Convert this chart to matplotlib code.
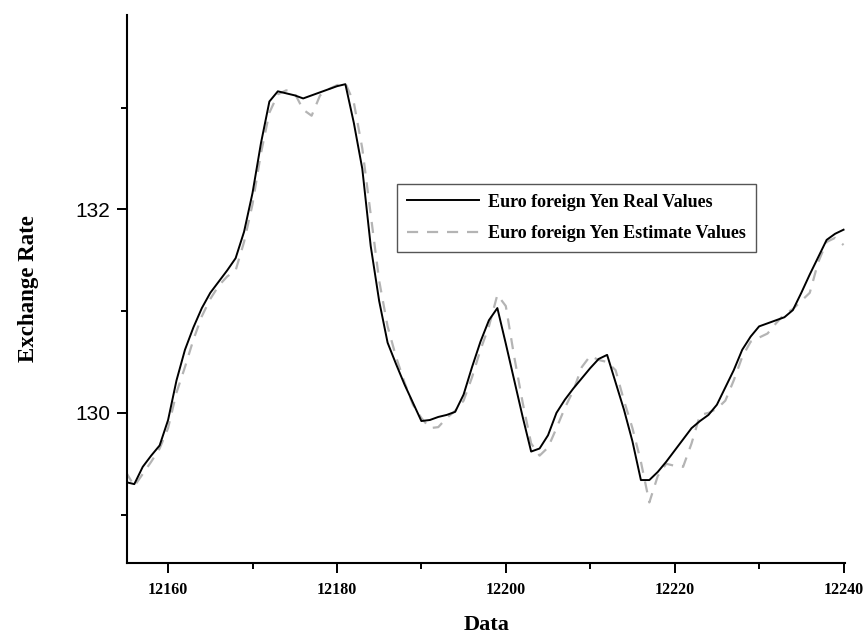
import numpy as np
import matplotlib
matplotlib.use("Agg")
import matplotlib.pyplot as plt
from matplotlib.ticker import MultipleLocator

# Exchange-rate observations (one per time step) and model estimates
days = list(range(12155, 12241))

real_values = [
    129.32, 129.30, 129.47, 129.58, 129.68, 129.93, 130.32, 130.62, 130.84, 131.03,
    131.18, 131.29, 131.40, 131.52, 131.78, 132.16, 132.65, 133.06, 133.16, 133.14,
    133.12, 133.09, 133.12, 133.15, 133.18, 133.21, 133.23, 132.85, 132.40, 131.64,
    131.10, 130.69, 130.48, 130.28, 130.10, 129.92, 129.93, 129.96, 129.98, 130.01,
    130.18, 130.45, 130.70, 130.91, 131.03, 130.68, 130.32, 129.96, 129.62, 129.65,
    129.78, 130.00, 130.13, 130.24, 130.34, 130.44, 130.53, 130.57, 130.30, 130.03,
    129.72, 129.34, 129.34, 129.42, 129.52, 129.63, 129.74, 129.85, 129.92, 129.98,
    130.08, 130.25, 130.42, 130.62, 130.75, 130.85, 130.88, 130.91, 130.94, 131.01,
    131.18, 131.36, 131.53, 131.70, 131.76, 131.80,
]

estimate_values = [
    129.42, 129.28, 129.40, 129.52, 129.65, 129.85, 130.20, 130.45, 130.72, 130.95,
    131.12, 131.25, 131.34, 131.40, 131.68, 132.05, 132.55, 132.95, 133.13, 133.17,
    133.14, 132.98, 132.92, 133.12, 133.18, 133.22, 133.24, 133.05, 132.60, 131.95,
    131.30, 130.85, 130.55, 130.30, 130.08, 129.95, 129.85, 129.86, 129.95, 130.02,
    130.12, 130.35, 130.62, 130.85, 131.16, 131.05, 130.55, 130.10, 129.70, 129.58,
    129.66, 129.85, 130.05, 130.22, 130.45, 130.56, 130.52, 130.50, 130.42, 130.12,
    129.85, 129.52, 129.12, 129.38, 129.50, 129.48, 129.47, 129.70, 129.98, 130.00,
    130.04, 130.12, 130.32, 130.55, 130.70, 130.74, 130.78, 130.88, 130.97, 131.02,
    131.10, 131.18, 131.48, 131.68, 131.72, 131.65,
]

serif = ["Liberation Serif", "DejaVu Serif"]
sans = ["Liberation Sans", "DejaVu Sans"]

fig = plt.figure(figsize=(8.66, 6.35), dpi=100)
ax = fig.add_axes([0.1467, 0.1134, 0.8293, 0.8630])

ax.plot(days, real_values, color="black", lw=1.4,
        label="Euro foreign Yen Real Values", zorder=3)
ax.plot(days, estimate_values, color="#b4b4b4", lw=1.6, dashes=(5, 4),
        label="Euro foreign Yen Estimate Values", zorder=2)

ax.set_xlim(12155.14, 12240.2)
ax.set_ylim(128.525, 133.91)

ax.xaxis.set_major_locator(MultipleLocator(20))
ax.xaxis.set_minor_locator(MultipleLocator(10))
ax.yaxis.set_major_locator(MultipleLocator(2))
ax.yaxis.set_minor_locator(MultipleLocator(1))

for side in ("top", "right"):
    ax.spines[side].set_visible(False)
for side in ("left", "bottom"):
    ax.spines[side].set_linewidth(1.5)

ax.tick_params(which="major", direction="out", length=7, width=1.4)
ax.tick_params(which="minor", direction="out", length=4, width=1.4)
ax.tick_params(axis="y", pad=5)
ax.tick_params(axis="x", pad=7)

for lab in ax.get_yticklabels():
    lab.set_family(sans)
    lab.set_fontsize(15)
for lab in ax.get_xticklabels():
    lab.set_family(serif)
    lab.set_fontweight("bold")
    lab.set_fontsize(11.5)

ax.set_xlabel("Data", family=serif, fontweight="bold", fontsize=16, labelpad=12)
ax.set_ylabel("Exchange Rate", family=serif, fontweight="bold", fontsize=16.5)
ax.yaxis.set_label_coords(-0.123, 0.5)

leg = ax.legend(loc="upper left", bbox_to_anchor=(0.376, 0.692), borderaxespad=0,
                prop={"family": serif, "weight": "bold", "size": 13},
                handlelength=4.0, handletextpad=0.5, labelspacing=0.8,
                borderpad=0.55, fancybox=False, framealpha=1)
leg.get_frame().set_edgecolor("#555555")
leg.get_frame().set_linewidth(1.0)

fig.savefig("out.png", dpi=100)
